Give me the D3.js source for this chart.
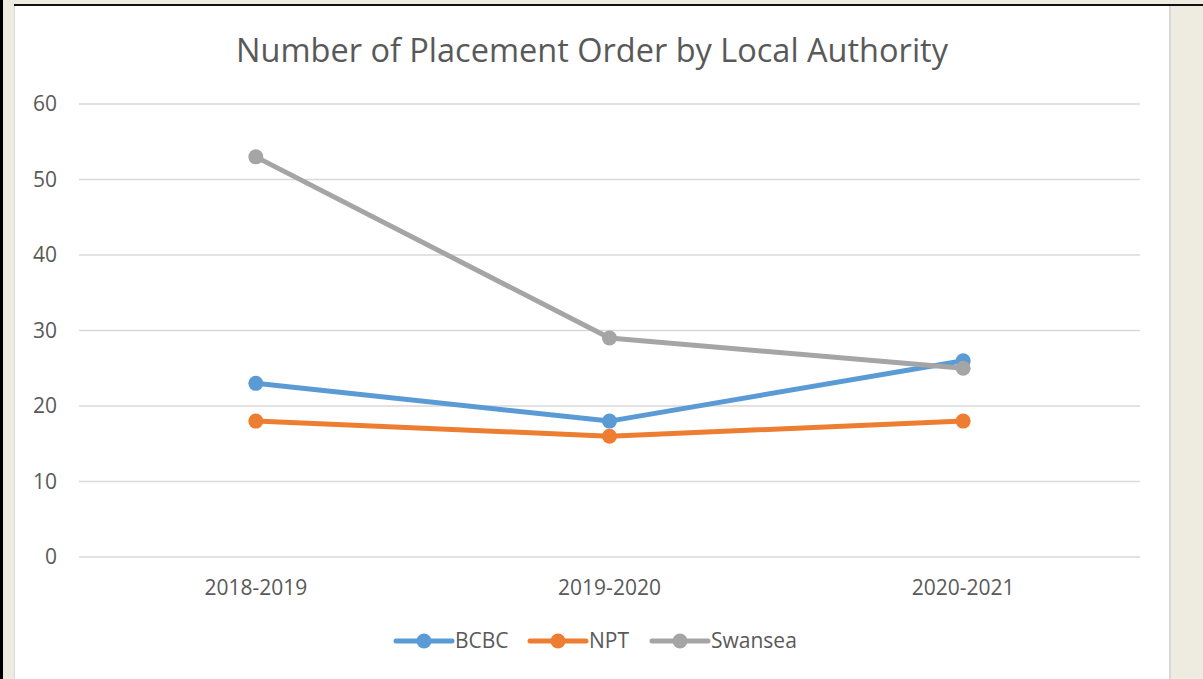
<!DOCTYPE html>
<html>
<head>
<meta charset="utf-8">
<script src="https://cdn.jsdelivr.net/npm/d3@7"></script>
<style>
  html, body { margin: 0; padding: 0; background: #eeebe0; }
  svg { display: block; }
  text { font-family: "Open Sans", "Liberation Sans", sans-serif; fill: #595959; }
</style>
</head>
<body>
<svg id="chart" width="1203" height="679"></svg>
<script>
const years = ['2018-2019', '2019-2020', '2020-2021'];
const bcbc = [23, 18, 26];
const npt = [18, 16, 18];
const swansea = [53, 29, 25];
const yTicks = [0, 10, 20, 30, 40, 50, 60];

const series = [
  { name: 'BCBC', values: bcbc, color: '#5b9bd5' },
  { name: 'NPT', values: npt, color: '#ed7d31' },
  { name: 'Swansea', values: swansea, color: '#a5a5a5' },
];

const svg = d3.select('#chart');

// page frame bits around the chart
svg.append('rect').attr('x', 0).attr('y', 0).attr('width', 3).attr('height', 679).attr('fill', '#000');
svg.append('rect').attr('x', 14).attr('y', 4).attr('width', 1189).attr('height', 2).attr('fill', '#111');
svg.append('rect').attr('x', 14).attr('y', 6).attr('width', 1157).attr('height', 673).attr('fill', '#d9d9d9');
svg.append('rect').attr('x', 15).attr('y', 6).attr('width', 1154).attr('height', 673).attr('fill', '#fff');

const margin = { top: 104, left: 79, right: 1140, bottom: 557 };
const labelSize = '21px';

const x = d3.scaleBand()
    .domain(years)
    .range([margin.left, margin.right]);
const y = d3.scaleLinear()
    .domain([0, 60])
    .range([margin.bottom, margin.top]);

svg.append('text')
    .attr('x', 592)
    .attr('y', 62)
    .attr('text-anchor', 'middle')
    .style('font-size', '32.5px')
    .text('Number of Placement Order by Local Authority');

// gridlines
svg.append('g')
  .selectAll('line')
  .data(yTicks)
  .join('line')
    .attr('x1', margin.left)
    .attr('x2', margin.right)
    .attr('y1', (d) => y(d))
    .attr('y2', (d) => y(d))
    .attr('stroke', '#d9d9d9')
    .attr('stroke-width', 1.5);

const yAxis = svg.append('g')
    .attr('transform', `translate(${margin.left}, 0)`)
    .call(d3.axisLeft(y).tickValues(yTicks).tickSize(0).tickPadding(22));
yAxis.select('.domain').remove();
yAxis.selectAll('text').style('font-size', labelSize).attr('fill', '#595959');

const xAxis = svg.append('g')
    .attr('transform', `translate(0, ${margin.bottom})`)
    .call(d3.axisBottom(x).tickSize(0).tickPadding(23));
xAxis.select('.domain').remove();
xAxis.selectAll('text').style('font-size', labelSize).attr('fill', '#595959');

const line = d3.line()
    .x((d, i) => x(years[i]) + x.bandwidth() / 2)
    .y((d) => y(d));

series.forEach((s) => {
  svg.append('path')
      .datum(s.values)
      .attr('d', line)
      .attr('fill', 'none')
      .attr('stroke', s.color)
      .attr('stroke-width', 5)
      .attr('stroke-linecap', 'round')
      .attr('stroke-linejoin', 'round');
  svg.append('g')
    .selectAll('circle')
    .data(s.values)
    .join('circle')
      .attr('cx', (d, i) => x(years[i]) + x.bandwidth() / 2)
      .attr('cy', (d) => y(d))
      .attr('r', 7.5)
      .attr('fill', s.color);
});

// legend
const legendX = [396, 530, 652];
const legend = svg.append('g')
  .selectAll('g')
  .data(series)
  .join('g')
    .attr('transform', (d, i) => `translate(${legendX[i]}, 641)`);
legend.append('line')
    .attr('x1', 0).attr('x2', 56)
    .attr('stroke', (d) => d.color)
    .attr('stroke-width', 5)
    .attr('stroke-linecap', 'round');
legend.append('circle')
    .attr('cx', 28)
    .attr('r', 7.5)
    .attr('fill', (d) => d.color);
legend.append('text')
    .attr('x', 59)
    .attr('dy', '0.35em')
    .style('font-size', labelSize)
    .text((d) => d.name);
</script>
</body>
</html>
